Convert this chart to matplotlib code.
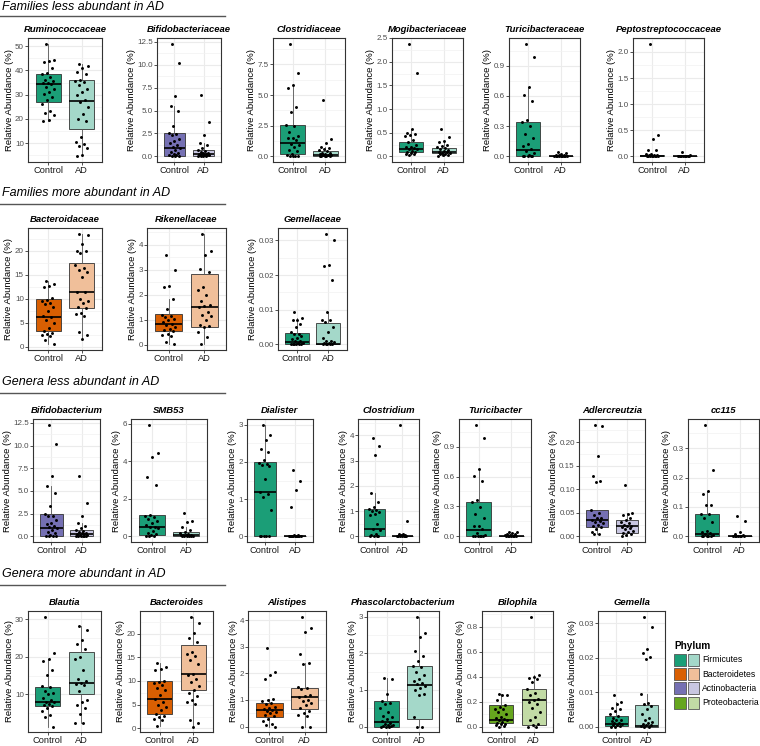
import matplotlib
matplotlib.use("Agg")
import matplotlib.pyplot as plt
from matplotlib.patches import Patch
from matplotlib.lines import Line2D
from matplotlib.legend_handler import HandlerTuple
from matplotlib.ticker import AutoMinorLocator
import numpy as np

plt.rcParams['font.family'] = ['Liberation Sans', 'DejaVu Sans']

groups = ["Control", "AD"]
phyla = ["Firmicutes", "Bacteroidetes", "Actinobacteria", "Proteobacteria"]
dark = {"Firmicutes": "#1B9E77", "Bacteroidetes": "#D95F02",
        "Actinobacteria": "#7570B3", "Proteobacteria": "#66A61E"}
light = {"Firmicutes": "#A4D8C9", "Bacteroidetes": "#F0BF9A",
         "Actinobacteria": "#C8C6E1", "Proteobacteria": "#C2DBA5"}

# box stats per group: (q1, median, q3, whisker low, whisker high)

# --- families less abundant in AD
rumino_ctrl = [51, 44.2, 44, 43.6, 41, 39, 38.5, 37.2, 36, 35.5, 35, 34.6, 34.2, 33, 32.5,
               31, 30.2, 29, 28, 26, 23.2, 22.5, 21.5, 19.5, 19.2]
rumino_ad = [42.5, 41.6, 41, 39.2, 38.5, 36, 35.5, 35.2, 34, 32.5, 31, 30, 28, 27, 25,
             22, 20, 19, 12.5, 10.5, 9.5, 9, 8.2, 5, 4.6]
rumino_box = [(27, 34.5, 38.5, 19.2, 51), (16, 27.3, 36, 4.6, 42.5)]
rumino_ticks = ["10", "20", "30", "40", "50"]

bifam_ctrl = [12.3, 10.2, 6.6, 5.5, 5.0, 3.3, 2.5, 2.4, 2.3, 1.9, 1.7, 1.5, 1.2, 1.0, 0.9,
              0.7, 0.5, 0.4, 0.3, 0.2, 0.1, 0.05, 0.0, 0.0]
bifam_ad = [6.7, 3.7, 2.3, 1.5, 1.2, 0.9, 0.7, 0.6, 0.5, 0.4, 0.35, 0.3, 0.3, 0.25, 0.2,
            0.15, 0.1, 0.1, 0.05, 0.0, 0.0, 0.0]
bifam_box = [(0.05, 0.95, 2.5, 0, 5.5), (0.05, 0.3, 0.65, 0, 1.5)]
bifam_ticks = ["0.0", "2.5", "5.0", "7.5", "10.0", "12.5"]

clostfam_ctrl = [9.2, 6.8, 5.8, 5.6, 4.0, 3.6, 2.6, 2.5, 2.0, 1.7, 1.5, 1.5, 1.3, 1.0, 0.9,
                 0.8, 0.5, 0.4, 0.2, 0.1, 0.05, 0.0, 0.0, 0.0]
clostfam_ad = [4.6, 1.4, 1.1, 0.8, 0.7, 0.6, 0.5, 0.4, 0.3, 0.3, 0.2, 0.2, 0.15, 0.1, 0.1,
               0.05, 0.05, 0.0, 0.0, 0.0]
clostfam_box = [(0.2, 1.05, 2.6, 0, 5.8), (0.05, 0.15, 0.4, 0, 0.8)]
clostfam_ticks = ["0.0", "2.5", "5.0", "7.5"]

mogi_ctrl = [2.38, 1.77, 0.58, 0.5, 0.48, 0.45, 0.42, 0.35, 0.3, 0.25, 0.2, 0.2, 0.18, 0.15,
             0.15, 0.12, 0.1, 0.1, 0.08, 0.05, 0.05, 0.03]
mogi_ad = [0.58, 0.4, 0.32, 0.3, 0.25, 0.22, 0.2, 0.18, 0.15, 0.14, 0.12, 0.1, 0.1, 0.08,
           0.07, 0.05, 0.05, 0.03, 0.02, 0.0]
mogi_box = [(0.1, 0.15, 0.31, 0.03, 0.58), (0.065, 0.1, 0.18, 0, 0.32)]
mogi_ticks = ["0.0", "0.5", "1.0", "1.5", "2.0", "2.5"]

turifam_ctrl = [1.12, 0.99, 0.69, 0.61, 0.55, 0.36, 0.34, 0.3, 0.22, 0.18, 0.12, 0.1, 0.07,
                0.05, 0.03, 0.01, 0.0, 0.0, 0.0, 0.0, 0.0]
turifam_ad = [0.045, 0.03, 0.02, 0.015, 0.01, 0.01, 0.005, 0.005, 0.003, 0.002, 0.001,
              0, 0, 0, 0, 0]
turifam_box = [(0.0, 0.065, 0.34, 0, 0.69), (0, 0.003, 0.008, 0, 0.02)]
turifam_ticks = ["0.0", "0.3", "0.6", "0.9"]

pepto_ctrl = [2.16, 0.41, 0.33, 0.13, 0.12, 0.05, 0.04, 0.03, 0.02, 0.02, 0.01, 0.01, 0.01,
              0.005, 0, 0, 0, 0]
pepto_ad = [0.09, 0.02, 0.01, 0.01, 0.005, 0.003, 0, 0, 0, 0, 0, 0]
pepto_box = [(0, 0.01, 0.025, 0, 0.05), (0, 0.001, 0.005, 0, 0.01)]
pepto_ticks = ["0.0", "0.5", "1.0", "1.5", "2.0"]

# --- families more abundant in AD
bacfam_ctrl = [13.8, 13.1, 12.7, 12.5, 10.2, 9.8, 9.5, 9.2, 9.0, 8.3, 7.5, 6.5, 6.2, 5.5,
               5.0, 4.0, 3.3, 2.9, 2.6, 2.5, 2.2, 1.5, 0.5]
bacfam_ad = [23.6, 23.4, 21.5, 20.0, 20.0, 19.6, 17.0, 16.5, 16.0, 15.5, 14.5, 11.5, 11.5,
             10.0, 9.5, 9.2, 8.3, 8.0, 7.0, 6.8, 6.4, 3.0, 2.5, 1.6]
bacfam_box = [(3.2, 6.2, 9.9, 0.5, 13.8), (8.1, 11.5, 17.5, 1.6, 23.6)]
bacfam_ticks = ["0", "5", "10", "15", "20"]

rike_ctrl = [3.6, 3.0, 2.35, 2.3, 1.85, 1.45, 1.2, 1.15, 1.1, 1.05, 1.0, 0.9, 0.85, 0.8,
             0.7, 0.65, 0.6, 0.55, 0.45, 0.4, 0.35, 0.1, 0.02]
rike_ad = [4.45, 3.75, 3.6, 3.05, 2.9, 2.3, 2.2, 2.0, 1.75, 1.6, 1.55, 1.5, 1.3, 1.2, 1.15,
           1.0, 0.8, 0.75, 0.7, 0.5, 0.3, 0.02]
rike_box = [(0.55, 0.82, 1.22, 0.02, 1.85), (0.72, 1.53, 2.85, 0.02, 4.45)]
rike_ticks = ["0", "1", "2", "3", "4"]

gemfam_ctrl = [0.0095, 0.0075, 0.0072, 0.007, 0.006, 0.005, 0.0035, 0.003, 0.003, 0.0025,
               0.002, 0.0015, 0.001, 0.001, 0.0005, 0.0003, 0, 0, 0, 0, 0, 0]
gemfam_ad = [0.032, 0.030, 0.023, 0.0225, 0.0187, 0.0095, 0.0072, 0.007, 0.0065, 0.005,
             0.0035, 0.002, 0.001, 0.001, 0.0008, 0.0005, 0.0003, 0, 0, 0, 0, 0]
gemfam_box = [(0, 0.0008, 0.0033, 0, 0.0075), (0, 0.0002, 0.0063, 0, 0.0095)]
gemfam_ticks = ["0.00", "0.01", "0.02", "0.03"]

# --- genera less abundant in AD
bifgen_ctrl = [12.3, 10.2, 6.6, 5.5, 4.8, 3.3, 2.5, 2.3, 2.2, 1.8, 1.5, 1.4, 1.2, 1.0, 0.9,
               0.7, 0.5, 0.4, 0.2, 0.1, 0.05, 0, 0]
bifgen_ad = [6.7, 3.7, 2.2, 1.5, 1.2, 0.9, 0.7, 0.6, 0.5, 0.4, 0.35, 0.3, 0.3, 0.2, 0.15,
             0.1, 0.1, 0.05, 0, 0, 0]
bifgen_box = [(0.05, 0.95, 2.5, 0, 5.5), (0.05, 0.3, 0.7, 0, 1.5)]
bifgen_ticks = ["0.0", "2.5", "5.0", "7.5", "10.0", "12.5"]

smb_ctrl = [5.95, 4.42, 4.25, 3.15, 2.72, 1.12, 1.1, 1.05, 0.9, 0.8, 0.7, 0.6, 0.5, 0.5,
            0.45, 0.3, 0.2, 0.15, 0.05, 0.02, 0, 0]
smb_ad = [1.22, 0.8, 0.75, 0.5, 0.35, 0.25, 0.2, 0.15, 0.1, 0.1, 0.05, 0.05, 0.02, 0, 0, 0, 0, 0]
smb_box = [(0.1, 0.5, 1.12, 0, 1.12), (0, 0.05, 0.22, 0, 0.5)]
smb_ticks = ["0", "2", "4", "6"]

dial_ctrl = [3.0, 2.72, 2.6, 2.35, 2.27, 2.05, 1.98, 1.95, 1.92, 1.9, 1.55, 1.2, 1.15, 1.05,
             0.72, 0, 0, 0, 0, 0]
dial_ad = [1.78, 1.5, 1.25, 0.8, 0.05, 0.03, 0.02, 0.01, 0.01, 0, 0, 0, 0, 0, 0, 0, 0]
dial_box = [(0, 1.2, 2.0, 0, 3.0), (0, 0.0, 0.01, 0, 0.02)]
dial_ticks = ["0", "1", "2", "3"]

clostgen_ctrl = [3.88, 3.57, 3.2, 1.7, 1.35, 1.15, 1.1, 1.05, 1.0, 0.95, 0.9, 0.85, 0.5, 0.3,
                 0.25, 0.1, 0.05, 0, 0, 0, 0]
clostgen_ad = [4.42, 0.6, 0.1, 0.08, 0.05, 0.05, 0.03, 0.02, 0.01, 0, 0, 0, 0]
clostgen_box = [(0, 0.28, 1.08, 0, 1.7), (0, 0.0, 0.03, 0, 0.1)]
clostgen_ticks = ["0", "1", "2", "3", "4"]

turigen_ctrl = [1.12, 0.99, 0.68, 0.61, 0.55, 0.36, 0.34, 0.29, 0.22, 0.18, 0.1, 0.1, 0.07,
                0.03, 0.01, 0, 0, 0, 0, 0, 0]
turigen_ad = [0.045, 0.04, 0.03, 0.02, 0.02, 0.01, 0.01, 0.005, 0.003, 0, 0, 0, 0, 0]
turigen_box = [(0, 0.065, 0.34, 0, 0.68), (0, 0.002, 0.008, 0, 0.02)]
turigen_ticks = ["0.0", "0.3", "0.6", "0.9"]

adler_ctrl = [0.237, 0.235, 0.17, 0.128, 0.118, 0.115, 0.055, 0.05, 0.045, 0.04, 0.038, 0.035,
              0.033, 0.03, 0.028, 0.025, 0.022, 0.02, 0.015, 0.01, 0.005, 0.005]
adler_ad = [0.11, 0.05, 0.047, 0.045, 0.04, 0.035, 0.03, 0.028, 0.025, 0.023, 0.022, 0.02,
            0.018, 0.015, 0.012, 0.01, 0.008, 0.005, 0.003, 0.0]
adler_box = [(0.021, 0.035, 0.057, 0.005, 0.057), (0.008, 0.022, 0.035, 0.0, 0.05)]
adler_ticks = ["0.00", "0.05", "0.10", "0.15", "0.20"]

cc_ctrl = [0.38, 0.227, 0.155, 0.145, 0.108, 0.107, 0.077, 0.075, 0.062, 0.048, 0.02, 0.015,
           0.01, 0.008, 0.005, 0.003, 0.001, 0, 0, 0]
cc_ad = [0.068, 0.053, 0.015, 0.008, 0.005, 0.003, 0.002, 0.001, 0, 0, 0, 0]
cc_box = [(0, 0.008, 0.076, 0, 0.155), (0, 0.0, 0.002, 0, 0.005)]
cc_ticks = ["0.0", "0.1", "0.2", "0.3"]

# --- genera more abundant in AD
blautia_ctrl = [30.7, 21.0, 19.3, 19.0, 16.5, 15.3, 12.2, 12.0, 11.0, 10.5, 10.0, 9.0, 8.5,
                8.0, 8.0, 7.5, 7.3, 7.0, 6.5, 5.5, 4.5, 4.0, 1.5]
blautia_ad = [28.3, 27.0, 24.5, 23.5, 22.0, 20.0, 19.5, 16.5, 14.0, 13.5, 13.0, 12.8, 12.5,
              11.0, 8.5, 8.0, 7.2, 6.5, 4.8, 2.3, 2.3]
blautia_box = [(7.0, 8.0, 12.1, 1.5, 19.3), (10.2, 13.0, 21.4, 2.3, 28.3)]
blautia_ticks = ["10", "20", "30"]

bacgen_ctrl = [13.7, 13.0, 12.6, 12.3, 10.0, 9.8, 9.5, 9.2, 8.5, 8.0, 7.0, 6.2, 5.5, 5.0,
               4.5, 3.8, 3.0, 2.7, 2.4, 2.0, 1.8, 0.5]
bacgen_ad = [23.6, 22.2, 20.2, 19.0, 18.3, 16.2, 15.7, 15.2, 14.5, 13.5, 11.5, 11.3, 10.5,
             9.8, 9.0, 8.0, 7.5, 6.8, 6.0, 5.5, 5.2, 1.8, 1.2, 0.4]
bacgen_box = [(3.0, 6.2, 9.9, 0.5, 13.7), (8.0, 11.4, 17.5, 0.4, 23.6)]
bacgen_ticks = ["0", "5", "10", "15", "20"]

alis_ctrl = [2.98, 2.05, 1.95, 1.78, 1.05, 1.0, 0.95, 0.9, 0.85, 0.75, 0.7, 0.65, 0.62, 0.6,
             0.55, 0.5, 0.45, 0.4, 0.3, 0.2, 0.1, 0.05, 0.0]
alis_ad = [4.15, 3.7, 3.55, 2.75, 2.4, 2.35, 1.5, 1.45, 1.4, 1.2, 1.15, 1.1, 1.0, 0.95, 0.9,
           0.8, 0.7, 0.6, 0.5, 0.45, 0.4, 0.0, 0.0]
alis_box = [(0.37, 0.62, 0.88, 0, 1.05), (0.67, 1.13, 1.47, 0, 2.4)]
alis_ticks = ["0", "1", "2", "3", "4"]

phasc_ctrl = [1.33, 1.3, 0.88, 0.7, 0.65, 0.62, 0.5, 0.4, 0.3, 0.25, 0.2, 0.15, 0.1, 0.08,
              0.05, 0.03, 0.02, 0.01, 0, 0, 0]
phasc_ad = [3.0, 2.56, 2.45, 2.07, 1.93, 1.8, 1.65, 1.63, 1.5, 1.4, 1.3, 1.25, 1.2, 1.15, 1.1,
            1.05, 1.0, 0.9, 0.85, 0.25, 0.0, 0.0]
phasc_box = [(0, 0.12, 0.69, 0, 1.33), (0.2, 1.14, 1.64, 0, 3.0)]
phasc_ticks = ["0", "1", "2", "3"]

bilo_ctrl = [0.26, 0.255, 0.25, 0.21, 0.17, 0.16, 0.14, 0.14, 0.12, 0.1, 0.08, 0.07, 0.06,
             0.05, 0.05, 0.04, 0.03, 0.02, 0.02, 0.01, 0.005, 0.0]
bilo_ad = [0.88, 0.41, 0.4, 0.39, 0.38, 0.36, 0.3, 0.27, 0.25, 0.22, 0.21, 0.2, 0.18, 0.15,
           0.12, 0.08, 0.05, 0.02, 0.01, 0.0, 0.0]
bilo_box = [(0.025, 0.05, 0.17, 0, 0.26), (0.01, 0.21, 0.3, 0, 0.41)]
bilo_ticks = ["0.0", "0.2", "0.4", "0.6", "0.8"]

gemgen_ctrl = [0.0092, 0.007, 0.0065, 0.0055, 0.005, 0.0045, 0.0035, 0.003, 0.0025, 0.002,
               0.0018, 0.0015, 0.001, 0.001, 0.0008, 0.0005, 0.0003, 0.0002, 0, 0]
gemgen_ad = [0.032, 0.029, 0.0225, 0.0213, 0.0203, 0.0197, 0.0095, 0.0068, 0.0065, 0.006,
             0.005, 0.0035, 0.0025, 0.002, 0.0012, 0.001, 0.0008, 0.0005, 0.0003, 0.0002, 0, 0]
gemgen_box = [(0.0001, 0.0006, 0.0032, 0, 0.007), (0, 0.0002, 0.0063, 0, 0.0095)]
gemgen_ticks = ["0.00", "0.01", "0.02", "0.03"]

sections = [
    ("Families less abundant in AD", [
        ("Ruminococcaceae", "Firmicutes", rumino_ctrl, rumino_ad, rumino_box, rumino_ticks),
        ("Bifidobacteriaceae", "Actinobacteria", bifam_ctrl, bifam_ad, bifam_box, bifam_ticks),
        ("Clostridiaceae", "Firmicutes", clostfam_ctrl, clostfam_ad, clostfam_box, clostfam_ticks),
        ("Mogibacteriaceae", "Firmicutes", mogi_ctrl, mogi_ad, mogi_box, mogi_ticks),
        ("Turicibacteraceae", "Firmicutes", turifam_ctrl, turifam_ad, turifam_box, turifam_ticks),
        ("Peptostreptococcaceae", "Firmicutes", pepto_ctrl, pepto_ad, pepto_box, pepto_ticks)]),
    ("Families more abundant in AD", [
        ("Bacteroidaceae", "Bacteroidetes", bacfam_ctrl, bacfam_ad, bacfam_box, bacfam_ticks),
        ("Rikenellaceae", "Bacteroidetes", rike_ctrl, rike_ad, rike_box, rike_ticks),
        ("Gemellaceae", "Firmicutes", gemfam_ctrl, gemfam_ad, gemfam_box, gemfam_ticks)]),
    ("Genera less abundant in AD", [
        ("Bifidobacterium", "Actinobacteria", bifgen_ctrl, bifgen_ad, bifgen_box, bifgen_ticks),
        ("SMB53", "Firmicutes", smb_ctrl, smb_ad, smb_box, smb_ticks),
        ("Dialister", "Firmicutes", dial_ctrl, dial_ad, dial_box, dial_ticks),
        ("Clostridium", "Firmicutes", clostgen_ctrl, clostgen_ad, clostgen_box, clostgen_ticks),
        ("Turicibacter", "Firmicutes", turigen_ctrl, turigen_ad, turigen_box, turigen_ticks),
        ("Adlercreutzia", "Actinobacteria", adler_ctrl, adler_ad, adler_box, adler_ticks),
        ("cc115", "Firmicutes", cc_ctrl, cc_ad, cc_box, cc_ticks)]),
    ("Genera more abundant in AD", [
        ("Blautia", "Firmicutes", blautia_ctrl, blautia_ad, blautia_box, blautia_ticks),
        ("Bacteroides", "Bacteroidetes", bacgen_ctrl, bacgen_ad, bacgen_box, bacgen_ticks),
        ("Alistipes", "Bacteroidetes", alis_ctrl, alis_ad, alis_box, alis_ticks),
        ("Phascolarctobacterium", "Firmicutes", phasc_ctrl, phasc_ad, phasc_box, phasc_ticks),
        ("Bilophila", "Proteobacteria", bilo_ctrl, bilo_ad, bilo_box, bilo_ticks),
        ("Gemella", "Firmicutes", gemgen_ctrl, gemgen_ad, gemgen_box, gemgen_ticks)]),
]

# layout in pixels: header text y, underline y, axes top, axes bottom, axes x spans
W, H = 760, 746
layout = [
    (7, 16, 38, 162, [(28, 102), (157, 221), (273, 345), (392, 463), (509, 580), (633, 704)]),
    (193, 204, 228, 350, [(28, 102), (147, 226), (278, 347)]),
    (382, 393, 419, 542, [(33, 100), (131, 207), (247, 313), (358, 419), (459, 531),
                          (579, 645), (688, 759)]),
    (574, 585, 611, 732, [(28, 101), (140, 213), (248, 326), (367, 439), (482, 553), (598, 665)]),
]


def jitter(n):
    # fixed low-discrepancy offsets instead of random jitter
    return 0.2 * (2 * ((np.arange(n) * 0.618034 + 0.31) % 1) - 1)


def draw_panel(ax, title, phylum, ctrl, ad, box, ticks):
    stats = []
    for (q1, med, q3, lo, hi), lab in zip(box, groups):
        stats.append(dict(q1=q1, med=med, q3=q3, whislo=lo, whishi=hi, fliers=[], label=lab))
    bp = ax.bxp(stats, positions=[1, 2], widths=0.75, patch_artist=True,
                showfliers=False, showcaps=False,
                boxprops=dict(edgecolor='#333333', linewidth=0.6),
                medianprops=dict(color='black', linewidth=1.2),
                whiskerprops=dict(color='#555555', linewidth=0.6))
    bp['boxes'][0].set_facecolor(dark[phylum])
    bp['boxes'][1].set_facecolor(light[phylum])
    for pos, vals in zip([1, 2], [ctrl, ad]):
        vals = np.asarray(vals, dtype=float)
        ax.scatter(pos + jitter(len(vals)), vals, s=4.5, color='black', zorder=5, linewidths=0)

    allv = np.concatenate([ctrl, ad])
    lo, hi = allv.min(), allv.max()
    pad = 0.05 * (hi - lo)
    ax.set_ylim(lo - pad, hi + pad)
    ax.set_xlim(0.4, 2.6)
    ax.set_yticks([float(t) for t in ticks])
    ax.set_yticklabels(ticks)
    ax.set_xticks([1, 2])
    ax.set_xticklabels(groups)
    ax.yaxis.set_minor_locator(AutoMinorLocator(2))
    ax.set_axisbelow(True)
    ax.grid(True, which='major', color='#EBEBEB', linewidth=0.8)
    ax.grid(True, which='minor', axis='y', color='#F2F2F2', linewidth=0.5)
    ax.tick_params(which='minor', length=0)
    ax.tick_params(axis='y', labelsize=5.8, labelcolor='#4D4D4D', length=2,
                   width=0.6, color='#333333', pad=1)
    ax.tick_params(axis='x', labelsize=6.7, labelcolor='#1A1A1A', length=2,
                   width=0.6, color='#333333', pad=1)
    for sp in ax.spines.values():
        sp.set_color('#333333')
        sp.set_linewidth(0.8)
    ax.set_ylabel("Relative Abundance (%)", fontsize=6.8, labelpad=1)
    ax.set_title(title, fontsize=6.8, fontweight='bold', style='italic', pad=4)


fig = plt.figure(figsize=(W / 100, H / 100), dpi=100)

for (header, panels), (ty, ly, top, bot, xs) in zip(sections, layout):
    fig.text(2 / W, 1 - ty / H, header, fontsize=9, style='italic', va='center', ha='left')
    fig.add_artist(Line2D([0, 225 / W], [1 - ly / H, 1 - ly / H], color='#555555', linewidth=1))
    for (title, phylum, ctrl, ad, box, ticks), (x0, x1) in zip(panels, xs):
        ax = fig.add_axes([x0 / W, 1 - bot / H, (x1 - x0) / W, (bot - top) / H])
        draw_panel(ax, title, phylum, ctrl, ad, box, ticks)

handles = [(Patch(facecolor=dark[p], edgecolor='#555555', linewidth=0.6),
            Patch(facecolor=light[p], edgecolor='#555555', linewidth=0.6)) for p in phyla]
leg = fig.legend(handles, phyla, loc='upper left', bbox_to_anchor=(671 / W, 1 - 638 / H),
                 frameon=False, title='Phylum', fontsize=6.2,
                 handler_map={tuple: HandlerTuple(ndivide=None, pad=0.25)},
                 handlelength=2.9, handleheight=1.8, labelspacing=0.25,
                 handletextpad=0.35, borderaxespad=0, alignment='left',
                 title_fontproperties={'weight': 'bold', 'size': 7.2})

fig.savefig("out.png", dpi=100)
